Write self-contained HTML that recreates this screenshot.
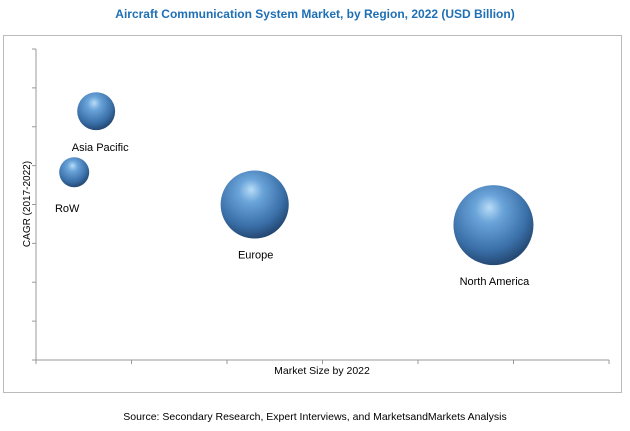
<!DOCTYPE html>
<html><head><meta charset="utf-8"><style>
body{margin:0;background:#fff;}
svg{display:block;font-family:"Liberation Sans",sans-serif;}
</style></head><body>
<svg id="c" width="630" height="431" viewBox="0 0 630 431">
<defs>
<radialGradient id="g" cx="0.42" cy="0.35" r="0.7" fx="0.45" fy="0.28">
<stop offset="0" stop-color="#b9dcf7"/>
<stop offset="0.25" stop-color="#6aa4d9"/>
<stop offset="0.7" stop-color="#3a6fa8"/>
<stop offset="1" stop-color="#1f3f66"/>
</radialGradient>
</defs>
<text x="315" y="18" text-anchor="middle" font-size="12" font-weight="bold" fill="#1f6fb5">Aircraft Communication System Market, by Region, 2022 (USD Billion)</text>
<rect x="3.5" y="35.5" width="618" height="357" fill="#fff" stroke="#bbb"/>
<g id="axes"></g>
<g id="bubbles"></g>
<text x="322" y="374" text-anchor="middle" font-size="10.5" fill="#000">Market Size by 2022</text>
<text transform="translate(30,204) rotate(-90)" text-anchor="middle" font-size="10" fill="#000">CAGR (2017-2022)</text>
<text x="315" y="420" text-anchor="middle" font-size="10.5" fill="#000">Source: Secondary Research, Expert Interviews, and MarketsandMarkets Analysis</text>
</svg>
<script>
const regions = ["Asia Pacific", "RoW", "Europe", "North America"];
const marketSize = [0.63, 0.40, 2.29, 4.79];
const cagr = [6.4, 4.83, 4.0, 3.47];
const bubbleSize = [3.6, 2.25, 11.6, 16];
const xTicks = [0,1,2,3,4,5,6];
const yTicks = [0,1,2,3,4,5,6,7,8];
const NS="http://www.w3.org/2000/svg";
const X0=36,X1=609,Y0=360,Y1=49;
const xs=v=>X0+(v/6)*(X1-X0);
const ys=v=>Y0-(v/8)*(Y0-Y1);
const rs=s=>10*Math.sqrt(s);
function mk(t,a,p){const e=document.createElementNS(NS,t);for(const k in a)e.setAttribute(k,a[k]);p.appendChild(e);return e;}
const ax=document.getElementById('axes');
const yl=mk('line',{x1:X0,y1:Y1,x2:X0,y2:Y0,stroke:'#999'},ax);


const xl=mk('line',{x1:X0,y1:Y0,x2:X1,y2:Y0,stroke:'#999'},ax);


yTicks.forEach(t=>{const l=mk('line',{x1:X0-4,y1:ys(t),x2:X0,y2:ys(t),stroke:'#999'},ax);

});
xTicks.forEach(t=>{const l=mk('line',{x1:xs(t),y1:Y0,x2:xs(t),y2:Y0+4,stroke:'#999'},ax);

});
const bg=document.getElementById('bubbles');
const labelOff=[{dx:4,dy:40},{dx:-7,dy:40},{dx:1,dy:54},{dx:1,dy:60}];
regions.forEach((r,i)=>{
 const cx=xs(marketSize[i]),cy=ys(cagr[i]),rad=rs(bubbleSize[i]);
 const c=mk('ellipse',{cx:cx,cy:cy,rx:rad,ry:rad,fill:'url(#g)'},bg);
 
 
 const t=mk('text',{x:cx+labelOff[i].dx,y:cy+labelOff[i].dy,'text-anchor':'middle','font-size':'11',fill:'#000'},bg);
 t.textContent=r;
 
 
});
</script>
</body></html>
